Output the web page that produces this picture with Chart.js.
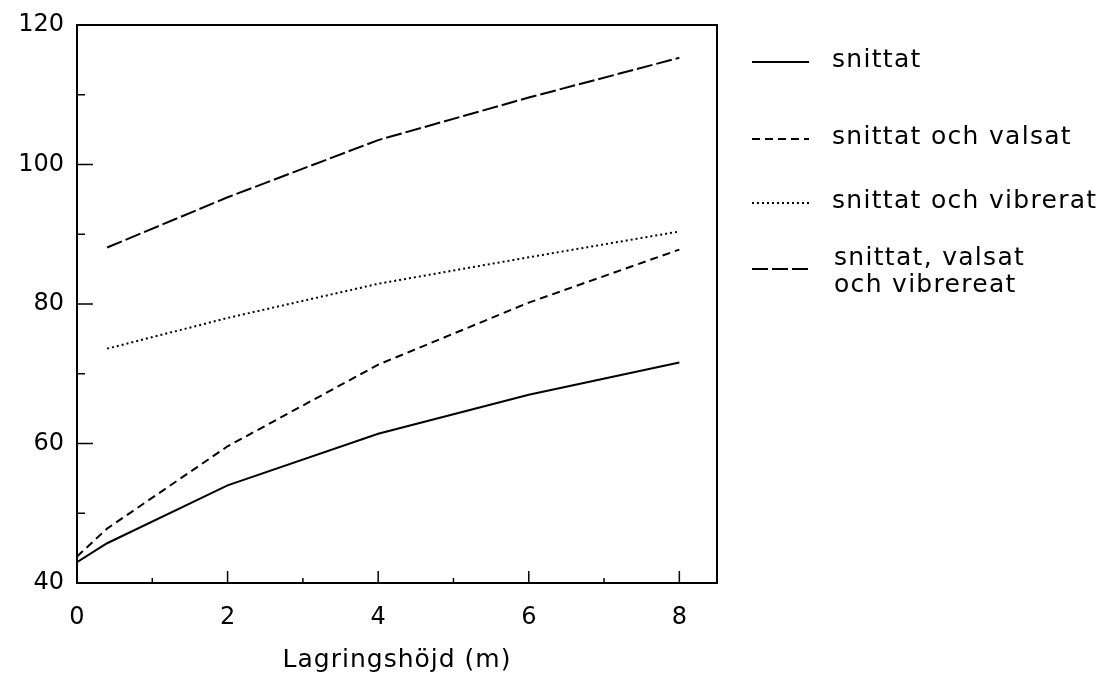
<!DOCTYPE html>
<html>
<head>
<meta charset="utf-8">
<script src="https://cdn.jsdelivr.net/npm/chart.js@4.4.0/dist/chart.umd.min.js"></script>
<style>
  html, body { margin: 0; padding: 0; background: #fff; }
  #wrap { width: 1100px; height: 675px; }
</style>
</head>
<body>
<div id="wrap"><canvas id="grafik"></canvas></div>
<script>
// Data
const serieNamn = ['snittat', 'snittat och valsat', 'snittat och vibrerat', ['snittat, valsat', 'och vibrereat']];
const snittatX = [0, 0.4, 2, 4, 6, 8];
const snittatY = [43, 45.7, 54, 61.4, 67, 71.6];
const valsatX = [0, 0.4, 2, 4, 6, 8];
const valsatY = [43.8, 47.8, 59.6, 71.3, 80.2, 87.8];
const vibreratX = [0.4, 2, 4, 6, 8];
const vibreratY = [73.6, 78, 82.9, 86.7, 90.4];
const allaX = [0.4, 2, 4, 6, 8];
const allaY = [88.1, 95.3, 103.5, 109.6, 115.3];
const xTicks = [0, 1, 2, 3, 4, 5, 6, 7, 8];
const yTicks = [40, 50, 60, 70, 80, 90, 100, 110, 120];
const xTitel = 'Lagringshöjd (m)';

const streck = [[], [8, 5], [2, 3], [16, 4]];
const fontFamily = '"DejaVu Sans", sans-serif';

function punkter(xs, ys) {
    return xs.map((x, i) => ({ x: x, y: ys[i] }));
}

function serie(namn, xs, ys, dash) {
    return {
        label: namn,
        data: punkter(xs, ys),
        borderColor: '#000',
        borderWidth: 2,
        borderDash: dash,
        pointRadius: 0,
        fill: false,
        tension: 0
    };
}

// Ram, inåtvända skalstreck, axeltitel och legend
const ramPlugin = {
    id: 'ram',
    afterDraw(chart) {
        const ctx = chart.ctx;
        const a = chart.chartArea;
        const xs = chart.scales.x;
        const ys = chart.scales.y;
        ctx.save();
        ctx.strokeStyle = '#000';
        ctx.lineWidth = 2;
        ctx.setLineDash([]);
        ctx.strokeRect(a.left, a.top, a.right - a.left, a.bottom - a.top);

        ctx.lineWidth = 1.5;
        xTicks.forEach(v => {
            const px = xs.getPixelForValue(v);
            const len = v % 2 === 0 ? 12 : 5;
            ctx.beginPath();
            ctx.moveTo(px, a.bottom);
            ctx.lineTo(px, a.bottom - len);
            ctx.stroke();
        });
        yTicks.forEach(v => {
            const py = ys.getPixelForValue(v);
            const len = v % 20 === 0 ? 16 : 8;
            ctx.beginPath();
            ctx.moveTo(a.left, py);
            ctx.lineTo(a.left + len, py);
            ctx.stroke();
        });

        ctx.fillStyle = '#000';
        ctx.textBaseline = 'middle';
        ctx.font = '25px ' + fontFamily;
        ctx.letterSpacing = '1px';

        // x-axelns titel
        ctx.textAlign = 'center';
        ctx.fillText(xTitel, (a.left + a.right) / 2, 660);

        // Legend
        ctx.textAlign = 'left';
        ctx.letterSpacing = '1.3px';
        const legendY = [62, 139, 203, 269];
        chart.data.datasets.forEach((ds, i) => {
            ctx.lineWidth = 2;
            ctx.setLineDash(ds.borderDash);
            ctx.beginPath();
            ctx.moveTo(752, legendY[i]);
            ctx.lineTo(809, legendY[i]);
            ctx.stroke();
            ctx.setLineDash([]);
            const namn = serieNamn[i];
            if (Array.isArray(namn)) {
                ctx.fillText(namn[0], 834, legendY[i] - 11);
                ctx.fillText(namn[1], 834, legendY[i] + 16);
            } else {
                ctx.fillText(namn, 832, legendY[i] - 2);
            }
        });
        ctx.restore();
    }
};

new Chart(document.getElementById('grafik'), {
    type: 'line',
    data: {
        datasets: [
            serie(serieNamn[0], snittatX, snittatY, streck[0]),
            serie(serieNamn[1], valsatX, valsatY, streck[1]),
            serie(serieNamn[2], vibreratX, vibreratY, streck[2]),
            serie(serieNamn[3].join(' '), allaX, allaY, streck[3])
        ]
    },
    options: {
        responsive: true,
        maintainAspectRatio: false,
        animation: false,
        layout: { padding: { left: 0, top: 25, right: 383, bottom: 0 } },
        plugins: {
            legend: { display: false },
            tooltip: { enabled: false }
        },
        scales: {
            x: {
                type: 'linear',
                min: 0,
                max: 8.5,
                afterBuildTicks: s => { s.ticks = xTicks.filter(v => v % 2 === 0).map(v => ({ value: v })); },
                afterFit: s => { s.height = 92; },
                grid: { display: false },
                border: { display: false },
                ticks: {
                    color: '#000',
                    padding: 12,
                    maxRotation: 0,
                    font: { family: fontFamily, size: 24 }
                }
            },
            y: {
                type: 'linear',
                min: 40,
                max: 120,
                afterBuildTicks: s => { s.ticks = yTicks.filter(v => v % 20 === 0).map(v => ({ value: v })); },
                afterFit: s => { s.width = 77; },
                grid: { display: false },
                border: { display: false },
                ticks: {
                    color: '#000',
                    padding: 5,
                    font: { family: fontFamily, size: 24 }
                }
            }
        }
    },
    plugins: [ramPlugin]
});
</script>
</body>
</html>
